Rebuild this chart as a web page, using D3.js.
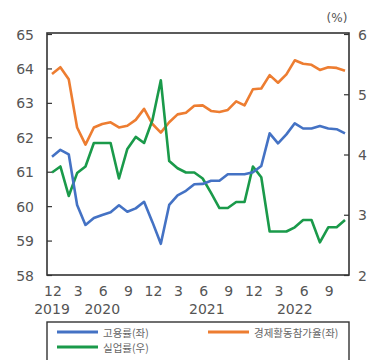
<!DOCTYPE html>
<html><head><meta charset="utf-8">
<script src="https://cdn.jsdelivr.net/npm/d3@7"></script>
<style>
html,body{margin:0;padding:0;background:#fff;}
svg{display:block;}
text{font-family:"Noto Sans CJK KR","Noto Sans",sans-serif;}
text.num{font-family:"DejaVu Sans",sans-serif;}
</style></head>
<body><svg id="c" width="368" height="360"></svg>
<script>
// months: Dec 2019 .. Nov 2022 (36 months)
const months = ["2019-12","2020-01","2020-02","2020-03","2020-04","2020-05","2020-06","2020-07","2020-08","2020-09","2020-10","2020-11","2020-12",
"2021-01","2021-02","2021-03","2021-04","2021-05","2021-06","2021-07","2021-08","2021-09","2021-10","2021-11","2021-12",
"2022-01","2022-02","2022-03","2022-04","2022-05","2022-06","2022-07","2022-08","2022-09","2022-10","2022-11"];
// 고용률 (left axis)
const employment = [61.45,61.65,61.52,60.05,59.47,59.67,59.76,59.84,60.04,59.85,59.95,60.14,59.55,58.92,60.05,60.33,60.46,60.65,60.66,60.75,60.75,60.94,60.94,60.94,61.0,61.18,62.13,61.84,62.1,62.42,62.27,62.27,62.34,62.27,62.25,62.13];
// 경제활동참가율 (left axis)
const participation = [63.85,64.05,63.7,62.3,61.8,62.3,62.4,62.45,62.3,62.35,62.52,62.84,62.4,62.15,62.45,62.68,62.73,62.93,62.94,62.78,62.75,62.81,63.06,62.94,63.41,63.43,63.82,63.6,63.84,64.25,64.15,64.12,63.97,64.05,64.03,63.95];
// 실업률 (right axis)
const unemployment = [3.71,3.81,3.32,3.70,3.81,4.20,4.20,4.20,3.61,4.10,4.30,4.20,4.58,5.24,3.90,3.78,3.71,3.71,3.61,3.37,3.12,3.12,3.22,3.22,3.81,3.63,2.73,2.73,2.73,2.80,2.92,2.92,2.55,2.80,2.80,2.92];
const leftTicks = [58,59,60,61,62,63,64,65];
const rightTicks = [2,3,4,5,6];
const monthTickIdx = [0,3,6,9,12,15,18,21,24,27,30,33];
const monthTickLabels = ["12","3","6","9","12","3","6","9","12","3","6","9"];
const yearLabels = ["2019","2020","2021","2022"];
const yearLabelIdx = [0,6,18.5,29];
const seriesNames = ["고용률(좌)","경제활동참가율(좌)","실업률(우)"];
const colors = ["#4472c4","#ed7d31","#1a9a4a"];

const svg = d3.select("#c");
const L=47, R=349, T=33, B=275;
const x = d3.scaleLinear().domain([0,35]).range([52,345]);
const yL = d3.scaleLinear().domain([58,65]).range([275.5,34.5]);
const yR = d3.scaleLinear().domain([2,6]).range([275.5,34.5]);
const txt = "#555";

// frame
svg.append("rect").attr("x",L).attr("y",T).attr("width",R-L).attr("height",B-T)
  .attr("fill","none").attr("stroke","#333").attr("stroke-width",1.6);

// left ticks
leftTicks.forEach(v=>{
  svg.append("line").attr("x1",L).attr("x2",L+5).attr("y1",yL(v)).attr("y2",yL(v)).attr("stroke","#333").attr("stroke-width",1.2);
  svg.append("text").attr("class","num").attr("x",34).attr("y",yL(v)).attr("text-anchor","end").attr("dominant-baseline","central")
    .attr("font-size",14).attr("fill",txt).text(v);
});
rightTicks.forEach(v=>{
  svg.append("line").attr("x1",R-5).attr("x2",R).attr("y1",yR(v)).attr("y2",yR(v)).attr("stroke","#333").attr("stroke-width",1.2);
  svg.append("text").attr("class","num").attr("x",358).attr("y",yR(v)).attr("text-anchor","start").attr("dominant-baseline","central")
    .attr("font-size",14).attr("fill",txt).text(v);
});
svg.append("text").attr("class","num").attr("x",337).attr("y",18).attr("text-anchor","middle").attr("dominant-baseline","central")
  .attr("font-size",12).attr("fill",txt).text("(%)");

monthTickIdx.forEach((i,k)=>{
  svg.append("text").attr("class","num").attr("x",x(i)+1).attr("y",290.5).attr("text-anchor","middle").attr("dominant-baseline","central")
    .attr("font-size",14).attr("fill",txt).text(monthTickLabels[k]);
});
yearLabels.forEach((s,k)=>{
  svg.append("text").attr("class","num").attr("x",x(yearLabelIdx[k])).attr("y",309).attr("text-anchor","middle").attr("dominant-baseline","central")
    .attr("font-size",14).attr("fill",txt).text(s);
});

const lineL = d3.line().x((d,i)=>x(i)).y(d=>yL(d));
const lineR = d3.line().x((d,i)=>x(i)).y(d=>yR(d));
svg.append("path").datum(participation).attr("d",lineL).attr("fill","none").attr("stroke",colors[1]).attr("stroke-width",2.6).attr("stroke-linejoin","round");
svg.append("path").datum(unemployment).attr("d",lineR).attr("fill","none").attr("stroke",colors[2]).attr("stroke-width",2.6).attr("stroke-linejoin","round");
svg.append("path").datum(employment).attr("d",lineL).attr("fill","none").attr("stroke",colors[0]).attr("stroke-width",2.6).attr("stroke-linejoin","round");

// legend
svg.append("rect").attr("x",L).attr("y",322).attr("width",R-L).attr("height",60)
  .attr("fill","#fff").attr("stroke","#333").attr("stroke-width",1.4);
const legPos = [[57,332],[208,332],[57,347]];
seriesNames.forEach((n,k)=>{
  const [lx,ly]=legPos[k];
  svg.append("line").attr("x1",lx).attr("x2",lx+41).attr("y1",ly).attr("y2",ly).attr("stroke",colors[k]).attr("stroke-width",3);
  svg.append("text").attr("x",lx+46).attr("y",ly).attr("dominant-baseline","central")
    .attr("font-size",10.5).attr("fill","#666").text(n);
});
</script></body></html>
